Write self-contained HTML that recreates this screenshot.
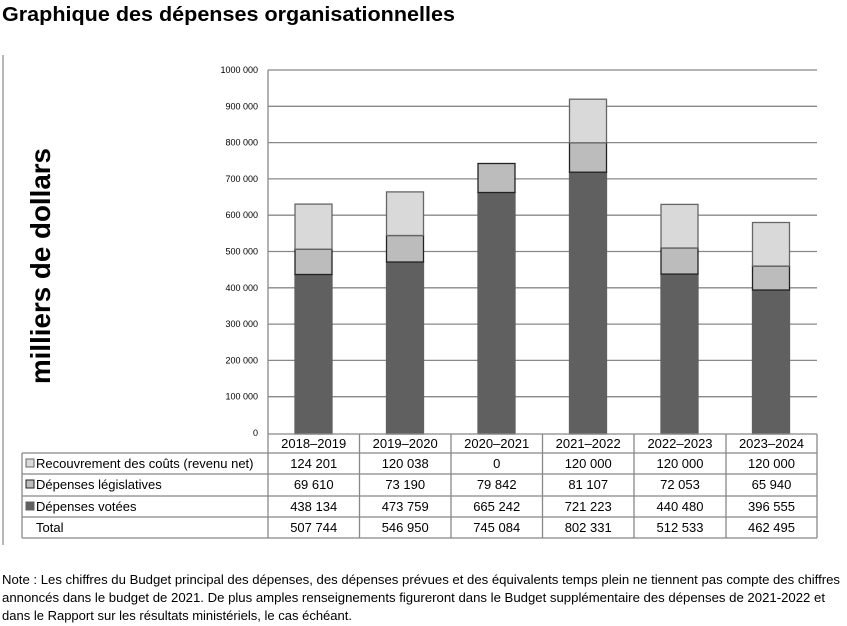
<!DOCTYPE html>
<html><head><meta charset="utf-8"><style>
html,body{margin:0;padding:0;background:#fff;}
body{width:847px;height:626px;overflow:hidden;position:relative;font-family:"Liberation Sans",Arial,sans-serif;}
</style></head><body>
<svg width="847" height="626" viewBox="0 0 847 626" xmlns="http://www.w3.org/2000/svg" style="position:absolute;left:0;top:0" font-family="Liberation Sans, Arial, sans-serif">
<text x="2" y="21" font-size="20.5" font-weight="bold" fill="#000" textLength="453" lengthAdjust="spacingAndGlyphs">Graphique des dépenses organisationnelles</text>
<line x1="3" y1="55" x2="3" y2="545" stroke="#888" stroke-width="1.2"/>
<text transform="translate(50,266) rotate(-90)" text-anchor="middle" font-size="28" font-weight="bold" fill="#000" textLength="236" lengthAdjust="spacingAndGlyphs">milliers de dollars</text>
<g stroke="#888" stroke-width="1.3">
<line x1="268" y1="70" x2="817" y2="70"/>
<line x1="268" y1="106.3" x2="817" y2="106.3"/>
<line x1="268" y1="142.6" x2="817" y2="142.6"/>
<line x1="268" y1="178.9" x2="817" y2="178.9"/>
<line x1="268" y1="215.2" x2="817" y2="215.2"/>
<line x1="268" y1="251.5" x2="817" y2="251.5"/>
<line x1="268" y1="287.8" x2="817" y2="287.8"/>
<line x1="268" y1="324.1" x2="817" y2="324.1"/>
<line x1="268" y1="360.4" x2="817" y2="360.4"/>
<line x1="268" y1="396.7" x2="817" y2="396.7"/>
<line x1="268" y1="70" x2="268" y2="434"/>
</g>
<g font-size="9" fill="#000" text-anchor="end">
<text x="258" y="73">1000 000</text>
<text x="258" y="109.3">900 000</text>
<text x="258" y="145.6">800 000</text>
<text x="258" y="181.9">700 000</text>
<text x="258" y="218.2">600 000</text>
<text x="258" y="254.5">500 000</text>
<text x="258" y="290.8">400 000</text>
<text x="258" y="327.1">300 000</text>
<text x="258" y="363.4">200 000</text>
<text x="258" y="399.7">100 000</text>
<text x="258" y="436">0</text>
</g>
<g stroke-width="1.3">
<rect x="295" y="274.5" width="37" height="159.5" fill="#606060" stroke="#606060"/>
<rect x="295" y="249.2" width="37" height="25.3" fill="#bcbcbc" stroke="#222"/>
<rect x="295" y="204.1" width="37" height="45.1" fill="#d9d9d9" stroke="#666"/>
<rect x="386.5" y="262" width="37" height="172" fill="#606060" stroke="#606060"/>
<rect x="386.5" y="235.5" width="37" height="26.5" fill="#bcbcbc" stroke="#222"/>
<rect x="386.5" y="191.9" width="37" height="43.6" fill="#d9d9d9" stroke="#666"/>
<rect x="478" y="192.5" width="37" height="241.5" fill="#606060" stroke="#606060"/>
<rect x="478" y="163.5" width="37" height="29" fill="#bcbcbc" stroke="#222"/>
<rect x="569.5" y="172.2" width="37" height="261.8" fill="#606060" stroke="#606060"/>
<rect x="569.5" y="142.8" width="37" height="29.4" fill="#bcbcbc" stroke="#222"/>
<rect x="569.5" y="99.2" width="37" height="43.6" fill="#d9d9d9" stroke="#666"/>
<rect x="661" y="274.1" width="37" height="159.9" fill="#606060" stroke="#606060"/>
<rect x="661" y="248" width="37" height="26.1" fill="#bcbcbc" stroke="#222"/>
<rect x="661" y="204.4" width="37" height="43.6" fill="#d9d9d9" stroke="#666"/>
<rect x="752.5" y="290" width="37" height="144" fill="#606060" stroke="#606060"/>
<rect x="752.5" y="266.1" width="37" height="23.9" fill="#bcbcbc" stroke="#222"/>
<rect x="752.5" y="222.5" width="37" height="43.6" fill="#d9d9d9" stroke="#666"/>
</g>
<g stroke="#888" stroke-width="1.3" fill="none">
<line x1="268" y1="434" x2="817" y2="434"/>
<line x1="22" y1="453" x2="817" y2="453"/>
<line x1="22" y1="474" x2="817" y2="474"/>
<line x1="22" y1="496" x2="817" y2="496"/>
<line x1="22" y1="517" x2="817" y2="517"/>
<line x1="22" y1="538" x2="817" y2="538"/>
<line x1="22" y1="453" x2="22" y2="538"/>
<line x1="268" y1="434" x2="268" y2="538"/>
<line x1="359.5" y1="434" x2="359.5" y2="538"/>
<line x1="451" y1="434" x2="451" y2="538"/>
<line x1="542.5" y1="434" x2="542.5" y2="538"/>
<line x1="634" y1="434" x2="634" y2="538"/>
<line x1="726" y1="434" x2="726" y2="538"/>
<line x1="817" y1="434" x2="817" y2="538"/>
</g>
<rect x="26" y="459" width="8" height="8" fill="#d9d9d9" stroke="#666" stroke-width="1"/>
<rect x="26" y="480" width="8" height="8" fill="#bcbcbc" stroke="#222" stroke-width="1"/>
<rect x="26" y="502" width="8" height="8" fill="#606060" stroke="#606060" stroke-width="1"/>
<g font-size="13" fill="#000">
<text x="36" y="468">Recouvrement des coûts (revenu net)</text>
<text x="36" y="489">Dépenses législatives</text>
<text x="36" y="511">Dépenses votées</text>
<text x="36" y="532">Total</text>
</g>
<g font-size="13" fill="#000" text-anchor="middle">
<text x="313.7" y="448">2018–2019</text><text x="405.2" y="448">2019–2020</text><text x="496.7" y="448">2020–2021</text><text x="588.2" y="448">2021–2022</text><text x="680" y="448">2022–2023</text><text x="771.5" y="448">2023–2024</text>
<text x="313.7" y="468">124 201</text><text x="405.2" y="468">120 038</text><text x="496.7" y="468">0</text><text x="588.2" y="468">120 000</text><text x="680" y="468">120 000</text><text x="771.5" y="468">120 000</text>
<text x="313.7" y="489">69 610</text><text x="405.2" y="489">73 190</text><text x="496.7" y="489">79 842</text><text x="588.2" y="489">81 107</text><text x="680" y="489">72 053</text><text x="771.5" y="489">65 940</text>
<text x="313.7" y="511">438 134</text><text x="405.2" y="511">473 759</text><text x="496.7" y="511">665 242</text><text x="588.2" y="511">721 223</text><text x="680" y="511">440 480</text><text x="771.5" y="511">396 555</text>
<text x="313.7" y="532">507 744</text><text x="405.2" y="532">546 950</text><text x="496.7" y="532">745 084</text><text x="588.2" y="532">802 331</text><text x="680" y="532">512 533</text><text x="771.5" y="532">462 495</text>
</g>
<g font-size="13" fill="#000" lengthAdjust="spacingAndGlyphs">
<text x="2" y="584" textLength="838" lengthAdjust="spacingAndGlyphs">Note : Les chiffres du Budget principal des dépenses, des dépenses prévues et des équivalents temps plein ne tiennent pas compte des chiffres</text>
<text x="2" y="602" textLength="823" lengthAdjust="spacingAndGlyphs">annoncés dans le budget de 2021. De plus amples renseignements figureront dans le Budget supplémentaire des dépenses de 2021-2022 et</text>
<text x="2" y="620" textLength="350" lengthAdjust="spacingAndGlyphs">dans le Rapport sur les résultats ministériels, le cas échéant.</text>
</g>
</svg>
</body></html>
